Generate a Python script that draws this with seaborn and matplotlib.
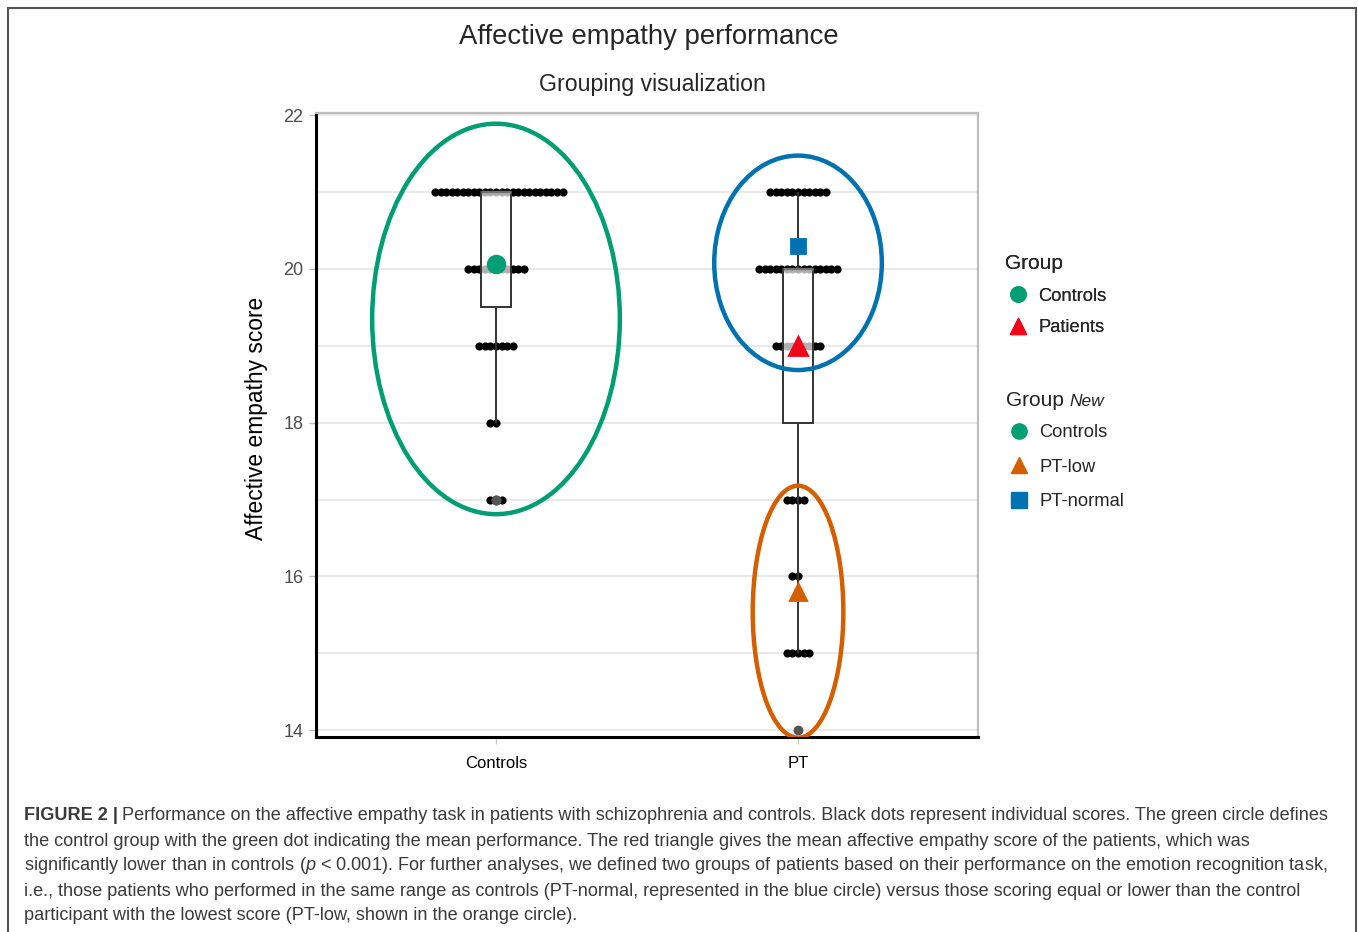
import numpy as np
import pandas as pd
import matplotlib
matplotlib.use("Agg")
import matplotlib.pyplot as plt
from matplotlib.patches import Ellipse, Rectangle
from matplotlib.lines import Line2D
import seaborn as sns

# ---------------- data ----------------
groups = ["Controls", "PT"]
score_levels = [21, 20, 19, 18, 17, 16, 15, 14]
controls_counts = [24, 11, 7, 2, 3, 0, 0, 0]
pt_counts = [11, 15, 9, 0, 4, 2, 5, 1]

mean_labels = ["Controls", "Patients", "PT-low", "PT-normal"]
mean_groups = ["Controls", "PT", "PT", "PT"]
mean_values = [20.06, 19.0, 15.8, 20.3]
mean_colors = ["#009E73", "#F20519", "#D55E00", "#0072B2"]
mean_markers = ["o", "^", "^", "s"]
mean_sizes = [12, 13, 11, 10]

y_ticks = [14, 16, 18, 20, 22]

# annotation ellipses: (group, centre score, width in category units, height in score units, colour)
ellipse_specs = [
    ("Controls", 19.35, 0.82, 5.08, "#009E73"),
    ("PT", 20.08, 0.555, 2.79, "#0072B2"),
    ("PT", 15.54, 0.30, 3.28, "#D55E00"),
]

# ---------------- build table ----------------
rows = []
for g, counts in zip(groups, [controls_counts, pt_counts]):
    for s, c in zip(score_levels, counts):
        rows += [(g, s)] * c
df = pd.DataFrame(rows, columns=["Group", "Score"])

sns.set_theme(style="white")
plt.rcParams["font.family"] = ["Liberation Sans", "DejaVu Sans"]
plt.rcParams["mathtext.fontset"] = "custom"
plt.rcParams["mathtext.it"] = "Liberation Sans:italic"
plt.rcParams["mathtext.rm"] = "Liberation Sans"

fig = plt.figure(figsize=(13.58, 9.32), dpi=100)
ax = fig.add_axes([0.2327, 0.2092, 0.4875, 0.6696])

# grid lines
for yv in range(14, 23):
    ax.axhline(yv, color="#e3e3e3", lw=1.1, zorder=0)

n_before = len(ax.collections)
sns.swarmplot(data=df, x="Group", y="Score", order=groups, color="black",
              size=3.8, ax=ax, zorder=2)
swarm_cols = ax.collections[n_before:]

ax.set_xlim(-0.596, 1.596)
ax.set_ylim(13.91, 22.03)

# let the swarm lay out its points, then freeze them and draw bigger,
# overlapping dots like a dot plot
fig.canvas.draw()
for c in swarm_cols:
    if "draw" in c.__dict__:
        del c.draw
    c.set_sizes([5.9 ** 2])
    c.set_linewidth(0)

sns.boxplot(data=df, x="Group", y="Score", order=groups, width=0.1,
            linecolor="#333333", linewidth=1.4, ax=ax, whis=1.5,
            boxprops=dict(facecolor=(1, 1, 1, 0.7), zorder=3),
            whiskerprops=dict(zorder=3), capprops=dict(linewidth=0),
            medianprops=dict(color="#999999", linewidth=2.5, alpha=0.6, zorder=3),
            flierprops=dict(marker="o", markerfacecolor="#555555",
                            markeredgecolor="#555555", markersize=6, zorder=2.5))

for lab, g, v, col, mk, ms in zip(mean_labels, mean_groups, mean_values,
                                  mean_colors, mean_markers, mean_sizes):
    sns.pointplot(x=[g], y=[v], order=groups, color=col, markers=mk,
                  linestyles="none", errorbar=None, ax=ax, markersize=ms,
                  zorder=6)

for g, yc, w, h, col in ellipse_specs:
    xc = groups.index(g)
    ax.add_patch(Ellipse((xc, yc), w, h, fill=False, edgecolor=col, lw=3.2,
                         zorder=7))

ax.set_xlim(-0.596, 1.596)
ax.set_ylim(13.91, 22.03)
ax.set_yticks(y_ticks)
ax.set_yticklabels([str(t) for t in y_ticks])
ax.set_xlabel("")
ax.set_ylabel("Affective empathy score", fontsize=16.4, color="black")
ax.yaxis.set_label_coords(-0.0725, 0.51)
ax.tick_params(axis="y", labelsize=13, colors="#4d4d4d", length=5, width=1,
               direction="out", left=True, pad=4)
ax.tick_params(axis="x", labelsize=12, colors="#cccccc", labelcolor="black",
               length=5, width=1, direction="out", bottom=True, pad=9)
ax.tick_params(axis="y", color="#bbbbbb")
ax.spines["left"].set_color("black")
ax.spines["left"].set_linewidth(2.2)
ax.spines["bottom"].set_color("black")
ax.spines["bottom"].set_linewidth(2.2)
ax.spines["top"].set_color("#bdbdbd")
ax.spines["top"].set_linewidth(1.6)
ax.spines["right"].set_color("#bdbdbd")
ax.spines["right"].set_linewidth(1.6)
if ax.get_legend():
    ax.get_legend().remove()

# ---------------- legends ----------------
def handle(i):
    return Line2D([], [], linestyle="none", marker=mean_markers[i],
                  color=mean_colors[i], markersize=11)

leg1 = fig.legend([handle(0), handle(1)], ["Controls", "Patients"],
                  title="Group", loc="upper left",
                  bbox_to_anchor=(998 / 1358, 1 - 247 / 932), frameon=False,
                  prop=dict(size=13.2),
                  title_fontproperties=dict(size=15),
                  alignment="left", handlelength=1.4,
                  handletextpad=0.4, labelspacing=0.78, borderaxespad=0)
fig.add_artist(leg1)

t_group = fig.text(1006 / 1358, 1 - 401 / 932, "Group", fontsize=15,
                   va="center", ha="left", color="#222222")
fig.canvas.draw()
bbg = t_group.get_window_extent(renderer=fig.canvas.get_renderer())
fig.text((bbg.x1 + 6) / 1358, 1 - 402 / 932, "New", fontsize=12.5,
         style="italic", va="center", ha="left", color="#222222")

leg2 = fig.legend([handle(0), handle(2), handle(3)],
                  ["Controls", "PT-low", "PT-normal"],
                  loc="upper left",
                  bbox_to_anchor=(999 / 1358, 1 - 417 / 932), frameon=False,
                  prop=dict(size=13.2),
                  handlelength=1.4,
                  handletextpad=0.4, labelspacing=0.95, borderaxespad=0)

# ---------------- titles ----------------
fig.text(649 / 1358, 1 - 37 / 932, "Affective empathy performance",
         ha="center", va="center", fontsize=19.8)
fig.text(652 / 1358, 1 - 85 / 932, "Grouping visualization",
         ha="center", va="center", fontsize=16.7)

# ---------------- caption ----------------
cap_color = "#3a3a3a"
cap_size = 13.05
cap_lines = [
    "Performance on the affective empathy task in patients with schizophrenia and controls. Black dots represent individual scores. The green circle defines",
    "the control group with the green dot indicating the mean performance. The red triangle gives the mean affective empathy score of the patients, which was",
    "significantly lower than in controls ($\\it{p}$ < 0.001). For further analyses, we defined two groups of patients based on their performance on the emotion recognition task,",
    "i.e., those patients who performed in the same range as controls (PT-normal, represented in the blue circle) versus those scoring equal or lower than the control",
    "participant with the lowest score (PT-low, shown in the orange circle).",
]
cap_y = [816, 841, 866, 891, 916]
x0 = 24 / 1358
bold = fig.text(x0, 1 - cap_y[0] / 932, "FIGURE 2 |", fontsize=cap_size,
                fontweight="bold", color=cap_color, va="center", ha="left")
fig.canvas.draw()
bb = bold.get_window_extent(renderer=fig.canvas.get_renderer())
fig.text((bb.x1 + 4) / 1358, 1 - cap_y[0] / 932, cap_lines[0], fontsize=cap_size,
         color=cap_color, va="center", ha="left")
for line, yy in zip(cap_lines[1:], cap_y[1:]):
    fig.text(x0, 1 - yy / 932, line, fontsize=cap_size, color=cap_color,
             va="center", ha="left")

# outer frame
fig.patches.append(Rectangle((8 / 1358, -0.05), 1348 / 1358, 1.05 - 8 / 932,
                             transform=fig.transFigure, fill=False,
                             edgecolor="#555555", lw=1.5))

fig.savefig("out.png", dpi=100)
